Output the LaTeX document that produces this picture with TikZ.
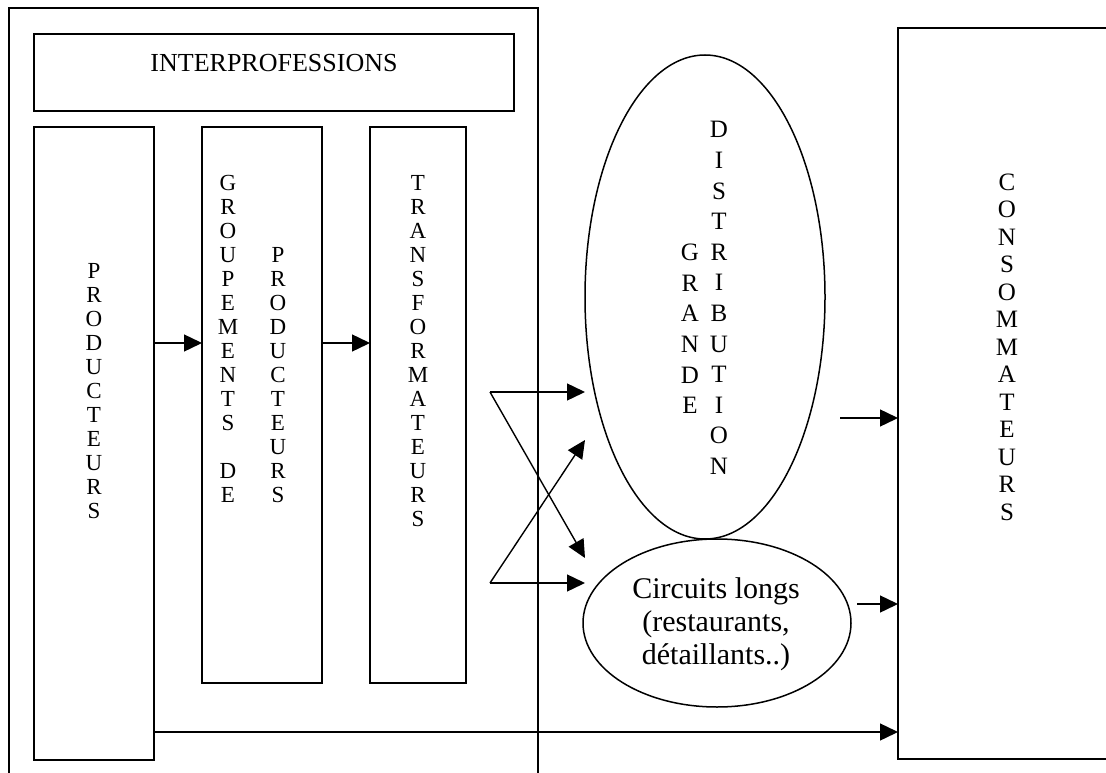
\documentclass[tikz,border=0pt]{standalone}
\usepackage{fontspec}
\setmainfont{Liberation Serif}
\usetikzlibrary{arrows.meta,shapes.geometric}
\begin{document}
\begin{tikzpicture}[x=1pt,y=-1pt,
  frame/.style={draw, line width=1.5pt, inner sep=0pt, outer sep=0pt},
  flow/.style={line width=1.4pt, -{Triangle[length=18pt,width=17pt]}},
  boxletters/.style={align=center, inner sep=0pt, font=\fontsize{23}{24}\selectfont},
  ovalletters/.style={align=center, inner sep=0pt, font=\fontsize{25}{30.6}\selectfont},
  consletters/.style={align=center, inner sep=0pt, font=\fontsize{25}{27.5}\selectfont}]
\useasboundingbox (0,0) rectangle (1106,773);
\clip (0,0) rectangle (1106,773);
\fill[white] (0,0) rectangle (1106,773);

% the sector frame, open at the bottom
\draw[line width=1.5pt] (9,790) |- (538,8) -- (538,790);

% boxes
\node[frame, minimum width=480pt, minimum height=77pt] (inter) at (274,72.5) {};
\node[font=\fontsize{26}{30}\selectfont, inner sep=0pt] (intertxt) at (274,63) {INTERPROFESSIONS};

\node[frame, minimum width=120pt, minimum height=633pt] (prod) at (94,443.5) {};
\node[frame, minimum width=120pt, minimum height=556pt] (grp) at (262,405) {};
\node[frame, minimum width=96pt, minimum height=556pt] (trans) at (418,405) {};
\node[frame, minimum width=300pt, minimum height=731pt] (cons) at (1048,393.5) {};

\node[boxletters] (prodtxt) at (94,391.5) {P\\R\\O\\D\\U\\C\\T\\E\\U\\R\\S};
\node[boxletters] (grptxtA) at (228,339) {G\\R\\O\\U\\P\\E\\M\\E\\N\\T\\S\\[24pt]D\\E};
\node[boxletters] (grptxtB) at (278,375) {P\\R\\O\\D\\U\\C\\T\\E\\U\\R\\S};
\node[boxletters] (transtxt) at (418,351) {T\\R\\A\\N\\S\\F\\O\\R\\M\\A\\T\\E\\U\\R\\S};
\node[consletters] (constxt) at (1007,347) {C\\O\\N\\S\\O\\M\\M\\A\\T\\E\\U\\R\\S};

% retail outlets
\node[frame, ellipse, minimum width=240pt, minimum height=484pt] (gd) at (705,297) {};
\node[ovalletters] (gdtxtA) at (690,329) {G\\R\\A\\N\\D\\E};
\node[ovalletters] (gdtxtB) at (719,298) {D\\I\\S\\T\\R\\I\\B\\U\\T\\I\\O\\N};

\node[frame, ellipse, minimum width=268pt, minimum height=168pt] (circ) at (717,623) {};
\node[align=center, inner sep=0pt, font=\fontsize{30}{33}\selectfont] (circtxt) at (716,624)
  {Circuits longs\\(restaurants,\\détaillants..)};

% rows used by the horizontal links
\coordinate (rowA) at (0,343);
\coordinate (rowB) at (0,732);

\draw[flow] (prod.east |- rowA) -- (grp.west |- rowA);
\draw[flow] (grp.east |- rowA) -- (trans.west |- rowA);

% crossed links from the processors to both outlets
\coordinate (fanA) at (490,392);
\coordinate (fanB) at (490,583);
\coordinate (tipA) at (585,392);
\coordinate (tipB) at (585,440);
\coordinate (tipC) at (585,558);
\coordinate (tipD) at (585,583);
\draw[flow] (fanA) -- (tipA);
\draw[flow] (fanA) -- (tipC);
\draw[flow] (fanB) -- (tipD);
\draw[flow] (fanB) -- (tipB);

% links to the consumers
\coordinate (outA) at (840,418);
\coordinate (outB) at (857,604);
\draw[flow] (outA) -- (cons.west |- outA);
\draw[flow] (outB) -- (cons.west |- outB);
\draw[flow] (prod.east |- rowB) -- (cons.west |- rowB);
\end{tikzpicture}
\end{document}
